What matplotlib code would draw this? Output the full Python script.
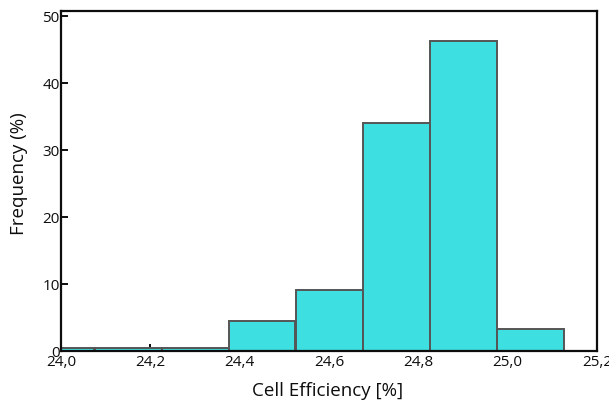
import matplotlib

matplotlib.use("Agg")
import matplotlib.pyplot as plt  # noqa: E402

# histogram bin edges and frequencies (%)
BIN_EDGES = [23.925, 24.075, 24.225, 24.375, 24.525, 24.675, 24.825, 24.975, 25.125]
FREQ = [0.5, 0.5, 0.5, 4.5, 9.1, 34.1, 46.3, 3.3]
X_TICKS = [24.0, 24.2, 24.4, 24.6, 24.8, 25.0, 25.2]
Y_TICKS = [0, 10, 20, 30, 40, 50]

BAR = "#3ddfe0"
EDGE = "#555555"
INK = "#0d0d0d"

plt.rcParams["font.family"] = ["Open Sans", "DejaVu Sans"]

fig = plt.figure(figsize=(6.09, 4.05), dpi=100)
ax = fig.add_axes([61 / 609, 1 - 351.3 / 405, (597 - 61) / 609, (351.3 - 11) / 405])

lefts = BIN_EDGES[:-1]
widths = [b - a for a, b in zip(BIN_EDGES[:-1], BIN_EDGES[1:])]
ax.bar(lefts, FREQ, width=widths, align="edge", color=BAR,
       edgecolor=EDGE, linewidth=1.4, zorder=3)

ax.set_xlim(24.0, 25.2)
ax.set_ylim(0, 50.8)
ax.set_axisbelow(True)
ax.set_xticks(X_TICKS)
ax.set_xticklabels([f"{t:.1f}".replace(".", ",") for t in X_TICKS])
ax.set_yticks(Y_TICKS)
ax.tick_params(direction="in", length=5, width=1.4, colors=INK,
               labelsize=11)
ax.tick_params(axis="x", pad=3)
ax.tick_params(axis="y", pad=1)
for s in ax.spines.values():
    s.set_linewidth(1.6)
    s.set_color(INK)
    s.set_zorder(4)

ax.set_xlabel("Cell Efficiency [%]", fontsize=13.5, color=INK)
ax.set_ylabel("Frequency (%)", fontsize=13.5, color=INK)
ax.xaxis.set_label_coords(0.498, -0.117)
ax.yaxis.set_label_coords(-0.078, 0.521)
ax.xaxis.label.set_va("center")
ax.yaxis.label.set_va("center")

fig.savefig("out.png", dpi=100, facecolor="white")
